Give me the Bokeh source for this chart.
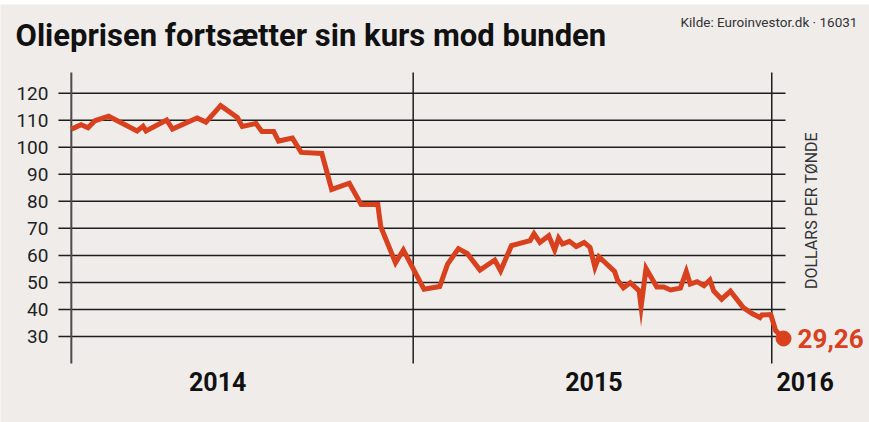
import pandas as pd
from bokeh.plotting import figure
from bokeh.models import ColumnDataSource, Range1d
from bokeh.core.properties import value
from bokeh.embed import file_html
from bokeh.resources import INLINE

# ---- data ----
dates = [
    "2014-01-18", "2014-01-28", "2014-02-04", "2014-02-11", "2014-02-25", "2014-03-26",
    "2014-04-01", "2014-04-04", "2014-04-25", "2014-05-01", "2014-05-26", "2014-06-04",
    "2014-06-19", "2014-07-06", "2014-07-11", "2014-07-25", "2014-07-31", "2014-08-12",
    "2014-08-17", "2014-08-31", "2014-09-09", "2014-09-30", "2014-10-10", "2014-10-28",
    "2014-11-09", "2014-11-26", "2014-11-29", "2014-12-14", "2014-12-22", "2015-01-12",
    "2015-01-28", "2015-02-05", "2015-02-16", "2015-02-25", "2015-03-10", "2015-03-25",
    "2015-03-31", "2015-04-11", "2015-04-30", "2015-05-04", "2015-05-10", "2015-05-19",
    "2015-05-25", "2015-05-29", "2015-06-02", "2015-06-09", "2015-06-16", "2015-06-24",
    "2015-06-30", "2015-07-05", "2015-07-09", "2015-07-25", "2015-07-28", "2015-08-03",
    "2015-08-10", "2015-08-19", "2015-08-21", "2015-08-26", "2015-09-06", "2015-09-13",
    "2015-09-20", "2015-09-30", "2015-10-06", "2015-10-10", "2015-10-17", "2015-10-24",
    "2015-10-30", "2015-11-03", "2015-11-11", "2015-11-20", "2015-12-03", "2015-12-12",
    "2015-12-20", "2015-12-22", "2015-12-31", "2016-01-05", "2016-01-13",
]
prices = [
    106.7, 108.3, 107.2, 109.8, 111.5, 106.0,
    107.8, 106.0, 110.1, 106.7, 110.8, 109.3,
    115.4, 111.0, 107.7, 108.8, 105.8, 105.8,
    102.3, 103.4, 98.1, 97.7, 84.4, 86.7,
    78.8, 78.8, 70.6, 57.3, 62.0, 47.5,
    48.5, 56.8, 62.5, 60.7, 54.6, 58.3,
    54.3, 63.6, 65.5, 68.0, 64.8, 67.3,
    62.0, 66.4, 64.2, 65.2, 63.3, 64.8,
    63.0, 55.6, 59.5, 54.1, 50.9, 48.0,
    49.9, 46.9, 41.0, 55.2, 48.3, 48.3,
    47.2, 47.9, 54.1, 49.4, 50.3, 48.8,
    50.9, 46.8, 43.8, 46.8, 40.7, 38.5,
    37.0, 38.0, 38.1, 32.2, 29.26,
]
y_ticks = [30, 40, 50, 60, 70, 80, 90, 100, 110, 120]
year_lines = ["2015-01-01", "2016-01-01"]
year_labels = ["2014", "2015", "2016"]
year_label_dates = ["2014-06-16", "2015-07-04", "2016-02-04"]
last_label = "29,26"

title_text = "Olieprisen fortsætter sin kurs mod bunden"
source_text = "Kilde: Euroinvestor.dk · 16031"
unit_text = "DOLLARS PER TØNDE"

# ---- layout / styling ----
RED = "#d9401e"
BG = "#efecea"
INK = "#1e1e1e"
FONT = value("Roboto")
ORIGIN = pd.Timestamp("2015-01-01")


def day(d):
    return (pd.Timestamp(d) - ORIGIN) / pd.Timedelta(days=1)


X0, X1 = -420.1, 464.5          # visible canvas in days from ORIGIN
Y0, Y1 = -1.8, 152.8            # visible canvas in price units
GX0, GX1 = -361.1, 379.0        # horizontal rule extent (days)
GY0, GY1 = 20.0, 127.66         # vertical rule extent (price)

xd = [day(d) for d in dates]
src = ColumnDataSource(dict(x=xd, y=prices))

p = figure(width=869, height=422,
           x_range=Range1d(X0, X1), y_range=Range1d(Y0, Y1),
           output_backend="svg", toolbar_location=None,
           min_border_left=0, min_border_right=0, min_border_top=4, min_border_bottom=0,
           background_fill_color=BG, border_fill_color="white", outline_line_color=None)
p.xaxis.visible = False
p.yaxis.visible = False
p.xgrid.visible = False
p.ygrid.visible = False

# horizontal rules at the tick values
p.segment(x0=[GX0] * len(y_ticks), x1=[GX1] * len(y_ticks), y0=y_ticks, y1=y_ticks,
          line_color=INK, line_width=1.5)
# tick labels
p.text(x=[GX0] * len(y_ticks), y=y_ticks, text=[str(t) for t in y_ticks],
       x_offset=-10, text_align="right", text_baseline="middle",
       text_font=FONT, text_font_size="19px", text_color="#222222")

# vertical separators: start of data, then each new year
p.segment(x0=[xd[0]], x1=[xd[0]], y0=[GY0], y1=[GY1], line_color="#4a4a4a", line_width=2)
yl = [day(d) for d in year_lines]
p.segment(x0=yl, x1=yl, y0=[GY0] * len(yl), y1=[GY1] * len(yl), line_color=INK, line_width=1.5)

# price line and end dot
p.line(x="x", y="y", source=src, line_color=RED, line_width=5, line_join="miter")
p.scatter(x=[xd[-1]], y=[prices[-1]], size=15, color=RED)

# year labels
p.text(x=[day(d) for d in year_label_dates], y=[13.34] * len(year_labels), text=year_labels,
       text_align="center", text_baseline="middle",
       text_font=FONT, text_font_style="bold",
       text_font_size="25px", text_color="#111111")

# last value label
p.text(x=[xd[-1]], y=[prices[-1]], text=[last_label], x_offset=14,
       text_align="left", text_baseline="middle",
       text_font=FONT, text_font_style="bold",
       text_font_size="26px", text_color=RED)

# unit label (vertical)
p.text(x=[405.4], y=[76.6], text=[unit_text], angle=1.5708,
       text_align="center", text_baseline="middle",
       text_font=FONT, text_font_size="16px", text_color="#333333")

# title and source
p.text(x=[-404.8], y=[141.3], text=[title_text],
       text_align="left", text_baseline="middle",
       text_font=FONT, text_font_style="bold",
       text_font_size="31px", text_color="#111111")
p.text(x=[452.2], y=[146.2], text=[source_text],
       text_align="right", text_baseline="middle",
       text_font=FONT, text_font_size="13.5px", text_color="#333333")

open("out.html", "w").write(file_html(p, INLINE))
